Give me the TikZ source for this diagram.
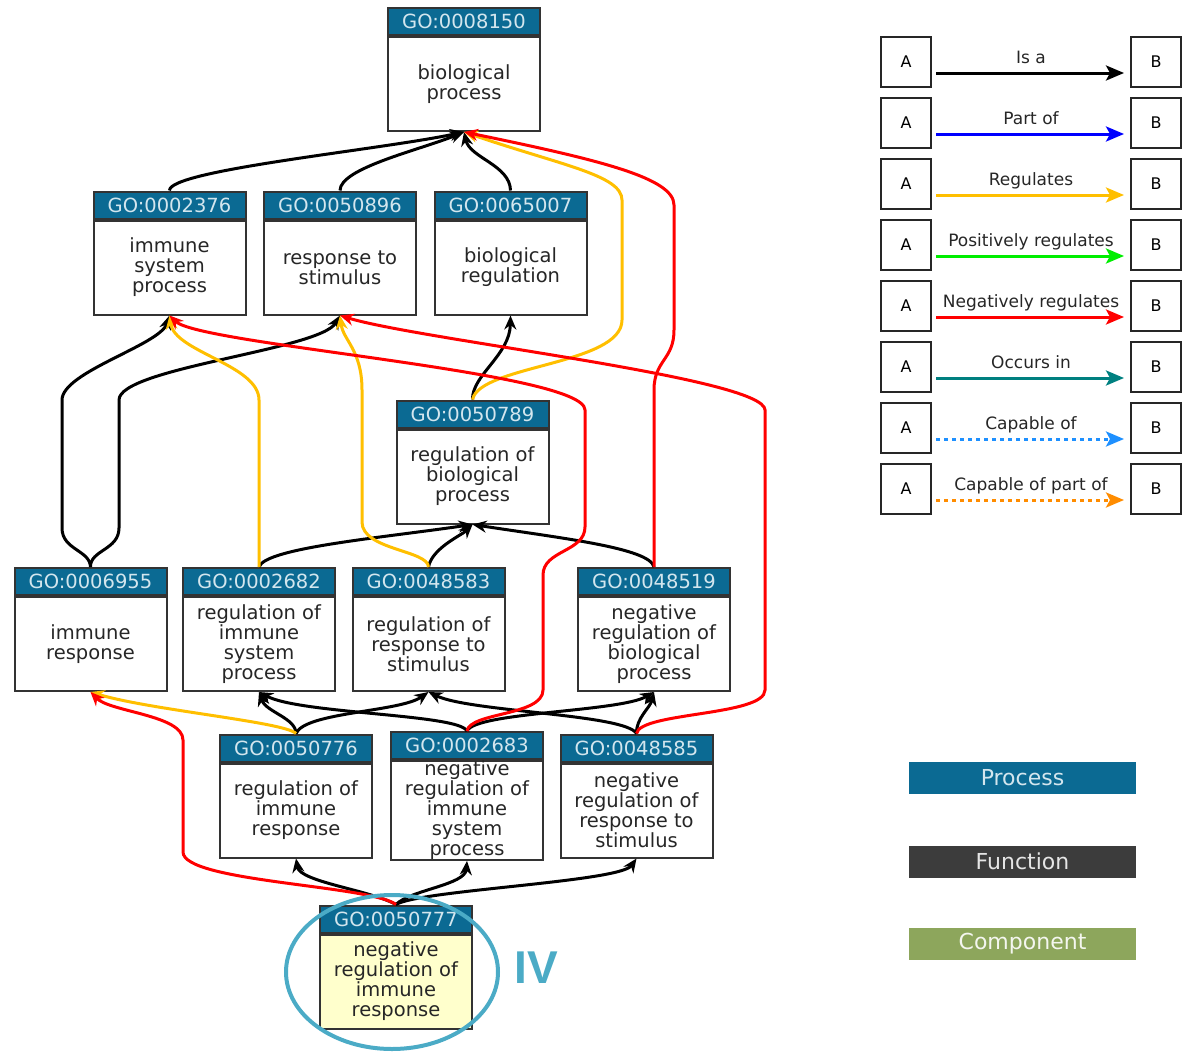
\documentclass[tikz,border=0pt]{standalone}
\usepackage{fontspec}
\setmainfont{DejaVu Sans}
\newfontfamily\ivfont{Liberation Sans}
\usetikzlibrary{arrows.meta}

\definecolor{gohead}{HTML}{0B6A93}
\definecolor{goheadtext}{HTML}{D3E6EE}
\definecolor{goyellow}{HTML}{FFFFCC}
\definecolor{partof}{HTML}{0000FF}
\definecolor{regcol}{HTML}{FFBF00}
\definecolor{posreg}{HTML}{00EE00}
\definecolor{negreg}{HTML}{FF0000}
\definecolor{occurs}{HTML}{008080}
\definecolor{capof}{HTML}{1E90FF}
\definecolor{cappart}{HTML}{FF8C00}
\definecolor{ringcol}{HTML}{4BABC6}
\definecolor{funccol}{HTML}{3C3C3C}
\definecolor{compcol}{HTML}{8DA65C}

\tikzset{
  term/.style={draw=black!80, line width=2pt, fill=white, minimum width=152pt, minimum height=94pt,
    inner sep=0pt, align=center, text=black!85, font=\fontsize{19.5}{20}\selectfont},
  focus/.style={term, fill=goyellow},
  termid/.style={draw=black!80, line width=2pt, fill=gohead, text=goheadtext, minimum width=152pt,
    minimum height=27pt, inner sep=0pt, anchor=south, font=\fontsize{19.5}{20}\selectfont},
  isa/.style={line width=3pt, draw=black, -{Stealth[length=14pt,width=12pt]}},
  regulates/.style={isa, draw=regcol},
  negregulates/.style={isa, draw=negreg},
  legbox/.style={draw=black!85, line width=2pt, minimum size=50pt, inner sep=0pt, font=\fontsize{16}{16}\selectfont},
  legarrow/.style={line width=3pt, -{Stealth[length=18pt,width=15pt,inset=4pt]}, shorten <=4pt, shorten >=6pt},
  leglabel/.style={midway, above=5pt, inner sep=1pt, text=black!85, text height=0.75em, text depth=0.2em,
    font=\fontsize{17}{17}\selectfont},
  catbar/.style={minimum width=227pt, minimum height=32pt, inner sep=0pt, font=\fontsize{22}{22}\selectfont}
}

\begin{document}
\begin{tikzpicture}[x=1pt,y=-1pt]
\useasboundingbox (0,0) rectangle (1183,1052);

\node[term] (bp) at (464,84) {biological\\process};
\node[termid] (bp-id) at (bp.north) {GO:0008150};

\node[term] (isp) at (169.5,267.5) {immune\\system\\process};
\node[termid] (isp-id) at (isp.north) {GO:0002376};
\node[term] (rts) at (340,267.5) {response to\\stimulus};
\node[termid] (rts-id) at (rts.north) {GO:0050896};
\node[term] (breg) at (510.5,267.5) {biological\\regulation};
\node[termid] (breg-id) at (breg.north) {GO:0065007};

\node[term] (rbp) at (472.5,476.5) {regulation of\\biological\\process};
\node[termid] (rbp-id) at (rbp.north) {GO:0050789};

\node[term] (ir) at (90.5,644) {immune\\response};
\node[termid] (ir-id) at (ir.north) {GO:0006955};
\node[term] (risp) at (259,644) {regulation of\\immune\\system\\process};
\node[termid] (risp-id) at (risp.north) {GO:0002682};
\node[term] (rrts) at (428.5,644) {regulation of\\response to\\stimulus};
\node[termid] (rrts-id) at (rrts.north) {GO:0048583};
\node[term] (nrbp) at (654,644) {negative\\regulation of\\biological\\process};
\node[termid] (nrbp-id) at (nrbp.north) {GO:0048519};

\node[term] (rir) at (296,810.5) {regulation of\\immune\\response};
\node[termid] (rir-id) at (rir.north) {GO:0050776};
\node[term] (nrisp) at (467,810.5) {negative\\regulation of\\immune\\system\\process};
\node[termid] (nrisp-id) at (nrisp.north) {GO:0002683};
\node[term] (nrrts) at (636.5,810.5) {negative\\regulation of\\response to\\stimulus};
\node[termid] (nrrts-id) at (nrrts.north) {GO:0048585};

\node[focus] (nrir) at (396,981.5) {negative\\regulation of\\immune\\response};
\node[termid] (nrir-id) at (nrir.north) {GO:0050777};

\draw[isa] (isp-id.north) .. controls (169,170) and (380,150) .. (bp.south);
\draw[isa] (rts-id.north) .. controls (340,168) and (420,150) .. (bp.south);
\draw[isa] (breg-id.north) .. controls (510,165) and (470,158) .. (bp.south);
\draw[isa] (rbp-id.north) .. controls (472,375) and (510,355) .. (breg.south);
\draw[isa] (ir-id.north) .. controls (90,550) and (62,550) .. (62,528) -- (62,400) .. controls (62,372) and (160,345) .. (isp.south);
\draw[isa] (ir-id.north) .. controls (90,550) and (119,550) .. (119,528) -- (119,400) .. controls (119,368) and (320,350) .. (rts.south);
\draw[isa] (risp-id.north) .. controls (265,548) and (380,538) .. (rbp.south);
\draw[isa] (rrts-id.north) .. controls (432,548) and (462,535) .. (rbp.south);
\draw[isa] (nrbp-id.north) .. controls (650,548) and (560,538) .. (rbp.south);
\draw[isa] (rir-id.north) .. controls (296,718) and (266,712) .. (risp.south);
\draw[isa] (rir-id.north) .. controls (305,712) and (400,712) .. (rrts.south);
\draw[isa] (nrisp-id.north) .. controls (460,714) and (300,714) .. (risp.south);
\draw[isa] (nrisp-id.north) .. controls (475,712) and (620,712) .. (nrbp.south);
\draw[isa] (nrrts-id.north) .. controls (625,714) and (470,712) .. (rrts.south);
\draw[isa] (nrrts-id.north) .. controls (636,718) and (650,708) .. (nrbp.south);
\draw[isa] (nrir-id.north) .. controls (370,890) and (300,882) .. (rir.south);
\draw[isa] (nrir-id.north) .. controls (410,890) and (465,885) .. (nrisp.south);
\draw[isa] (nrir-id.north) .. controls (420,890) and (620,882) .. (nrrts.south);

\draw[regulates] (rbp-id.north) .. controls (480,365) and (622,365) .. (622,320) -- (622,200) .. controls (622,175) and (560,165) .. (bp.south);
\draw[regulates] (risp-id.north) -- (259,400) .. controls (259,365) and (175,352) .. (isp.south);
\draw[regulates] (rrts-id.north) .. controls (428,550) and (362,550) .. (362,522) -- (362,390) .. controls (362,350) and (343,340) .. (rts.south);
\draw[regulates] (rir-id.north) .. controls (285,722) and (150,710) .. (ir.south);

\draw[negregulates] (nrbp-id.north) -- (654,390) .. controls (654,360) and (674,360) .. (674,330) -- (674,205) .. controls (674,178) and (600,160) .. (bp.south);
\draw[negregulates] (nrisp-id.north) .. controls (470,712) and (543,716) .. (543,690) -- (543,575) .. controls (543,550) and (585,552) .. (585,527) -- (585,410) .. controls (585,372) and (200,345) .. (isp.south);
\draw[negregulates] (nrrts-id.north) .. controls (640,712) and (765,716) .. (765,690) -- (765,410) .. controls (765,378) and (420,340) .. (rts.south);
\draw[negregulates] (nrir-id.north) .. controls (370,885) and (183,882) .. (183,852) -- (183,740) .. controls (183,715) and (110,712) .. (ir.south);

\draw[ringcol, line width=4pt] (392,972) ellipse [x radius=106, y radius=77];
\node[text=ringcol, font=\ivfont\bfseries\fontsize{46}{46}\selectfont] (iv) at (536,968) {IV};

\node[legbox] (a1) at (906,62) {A};
\node[legbox] (b1) at (1156,62) {B};
\node[legbox] (a2) at (906,123) {A};
\node[legbox] (b2) at (1156,123) {B};
\node[legbox] (a3) at (906,184) {A};
\node[legbox] (b3) at (1156,184) {B};
\node[legbox] (a4) at (906,245) {A};
\node[legbox] (b4) at (1156,245) {B};
\node[legbox] (a5) at (906,306) {A};
\node[legbox] (b5) at (1156,306) {B};
\node[legbox] (a6) at (906,367) {A};
\node[legbox] (b6) at (1156,367) {B};
\node[legbox] (a7) at (906,428) {A};
\node[legbox] (b7) at (1156,428) {B};
\node[legbox] (a8) at (906,489) {A};
\node[legbox] (b8) at (1156,489) {B};
\draw[legarrow, black] ([yshift=-11pt]a1.east) -- node[leglabel] {Is a} ([yshift=-11pt]b1.west);
\draw[legarrow, partof] ([yshift=-11pt]a2.east) -- node[leglabel] {Part of} ([yshift=-11pt]b2.west);
\draw[legarrow, regcol] ([yshift=-11pt]a3.east) -- node[leglabel] {Regulates} ([yshift=-11pt]b3.west);
\draw[legarrow, posreg] ([yshift=-11pt]a4.east) -- node[leglabel] {Positively regulates} ([yshift=-11pt]b4.west);
\draw[legarrow, negreg] ([yshift=-11pt]a5.east) -- node[leglabel] {Negatively regulates} ([yshift=-11pt]b5.west);
\draw[legarrow, occurs] ([yshift=-11pt]a6.east) -- node[leglabel] {Occurs in} ([yshift=-11pt]b6.west);
\draw[legarrow, capof, dash pattern=on 4pt off 4pt] ([yshift=-11pt]a7.east) -- node[leglabel] {Capable of} ([yshift=-11pt]b7.west);
\draw[legarrow, cappart, dash pattern=on 4pt off 4pt] ([yshift=-11pt]a8.east) -- node[leglabel] {Capable of part of} ([yshift=-11pt]b8.west);

\node[catbar, fill=gohead, text=goheadtext] (process) at (1022.5,778) {Process};
\node[catbar, fill=funccol, text=black!10] (function) at (1022.5,861.5) {Function};
\node[catbar, fill=compcol, text=white!90!compcol] (component) at (1022.5,944) {Component};
\end{tikzpicture}
\end{document}
